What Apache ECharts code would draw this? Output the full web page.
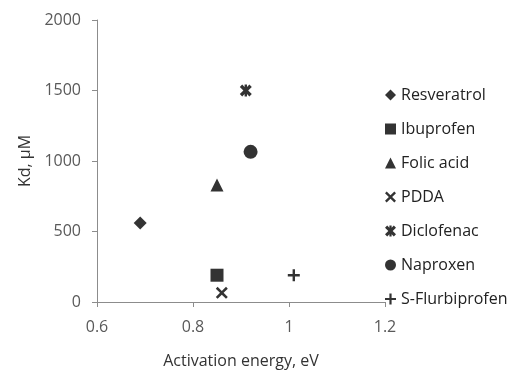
<!DOCTYPE html>
<html>
<head>
<meta charset="utf-8">
<script src="https://cdn.jsdelivr.net/npm/echarts@6/dist/echarts.min.js"></script>
<style>
  html, body { margin: 0; padding: 0; background: #fff; }
  #chart { width: 508px; height: 373px; }
</style>
</head>
<body>
<div id="chart"></div>
<script>
// compounds, one point each
var names = ["Resveratrol", "Ibuprofen", "Folic acid", "PDDA", "Diclofenac", "Naproxen", "S-Flurbiprofen"];
var energy = [0.69, 0.85, 0.85, 0.86, 0.91, 0.92, 1.01]; // eV
var kd = [560, 190, 830, 65, 1500, 1065, 190]; // µM

// marker shapes (Excel-like)
var crossPath = "path://M1.5,0 L5,3.5 L8.5,0 L10,1.5 L6.5,5 L10,8.5 L8.5,10 L5,6.5 L1.5,10 L0,8.5 L3.5,5 L0,1.5 Z";
var starPath = "path://M2,0 L4,2 L4,0 L6,0 L6,2 L8,0 L10,2 L7,5 L10,8 L8,10 L6,8 L6,10 L4,10 L4,8 L2,10 L0,8 L3,5 L0,2 Z";
var plusPath = "path://M4,0 L6,0 L6,4 L10,4 L10,6 L6,6 L6,10 L4,10 L4,6 L0,6 L0,4 L4,4 Z";
var symbols = ["diamond", "rect", "triangle", crossPath, starPath, "circle", plusPath];
var sizes = [13, 13, 13, 12, 12, 14, 12];

var chart = echarts.init(document.getElementById("chart"));

var series = [];
for (var i = 0; i < names.length; i++) {
  series.push({
    name: names[i],
    type: "scatter",
    symbol: symbols[i],
    symbolSize: sizes[i],
    itemStyle: { color: "#000" },
    data: [[energy[i], kd[i]]]
  });
}

var axisCol = "#8c8c8c";
var labelCol = "#595959";

chart.setOption({
  backgroundColor: "#fff",
  animation: false,
  textStyle: { fontFamily: "Open Sans" },
  grid: { left: 97, right: 123, top: 20, bottom: 71, outerBoundsMode: "none" },
  xAxis: {
    type: "value",
    min: 0.6,
    max: 1.2,
    interval: 0.2,
    name: "Activation energy, eV",
    nameLocation: "middle",
    nameGap: 51,
    nameTextStyle: { color: "#333", fontSize: 16 },
    axisLine: { show: true, lineStyle: { color: axisCol } },
    axisTick: { show: true, length: 5, lineStyle: { color: axisCol } },
    axisLabel: { color: labelCol, fontSize: 16, margin: 17 },
    splitLine: { show: false }
  },
  yAxis: {
    type: "value",
    min: 0,
    max: 2000,
    interval: 500,
    name: "Kd, \u00b5M",
    nameLocation: "middle",
    nameGap: 64,
    nameTextStyle: { color: "#333", fontSize: 16 },
    axisLine: { show: true, lineStyle: { color: axisCol } },
    axisTick: { show: true, length: 5, lineStyle: { color: axisCol } },
    axisLabel: {
      color: labelCol, fontSize: 16, margin: 16,
      formatter: function (v) { return String(v); }
    },
    splitLine: { show: false }
  },
  legend: {
    orient: "vertical",
    left: 380,
    top: 82,
    itemWidth: 11,
    itemHeight: 11,
    itemGap: 18,
    textStyle: { color: "#222", fontSize: 16, lineHeight: 16 },
    data: names.map(function (n, i) {
      return { name: n, icon: symbols[i] };
    })
  },
  series: series
});
</script>
</body>
</html>
